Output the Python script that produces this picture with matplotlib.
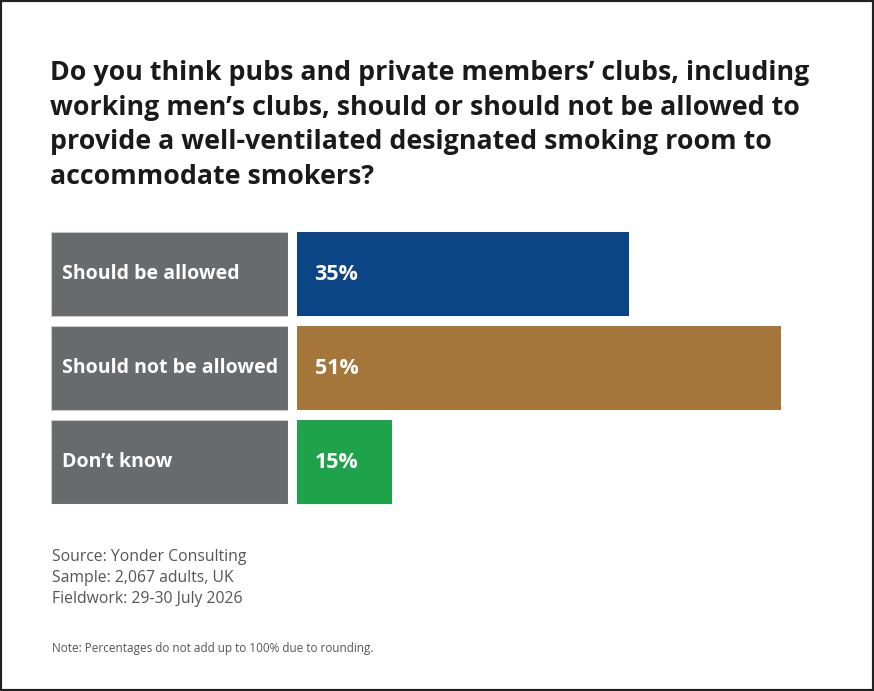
import matplotlib
matplotlib.use("Agg")
import matplotlib.pyplot as plt
from matplotlib.patches import Rectangle

plt.rcParams['font.family'] = ['Open Sans', 'DejaVu Sans']

# data
categories = ['Should be allowed', 'Should not be allowed', 'Don\u2019t know']
bar_lengths = [35, 51, 10]          # drawn length of each bar (in % units)
value_labels = ['35%', '51%', '15%']
bar_colors = ['#0c4585', '#a4763a', '#1ea34a']

title = ('Do you think pubs and private members\u2019 clubs, including\n'
         'working men\u2019s clubs, should or should not be allowed to\n'
         'provide a well-ventilated designated smoking room to\n'
         'accommodate smokers?')
source_lines = ['Source: Yonder Consulting', 'Sample: 2,067 adults, UK',
                'Fieldwork: 29-30 July 2026']
note = 'Note: Percentages do not add up to 100% due to rounding.'

W, H = 874, 691
fig = plt.figure(figsize=(W / 100, H / 100), dpi=100)

def fx(px):
    return px / W

def fy(py):
    return 1 - py / H

# bar area
px_per_unit = 9.49
top, bottom = 232, 504
ax = fig.add_axes([fx(297), fy(bottom), 60 * px_per_unit / W, (bottom - top) / H])
pos = list(range(len(categories)))
bh = 84 / 94
ax.barh(pos, bar_lengths, height=bh, color=bar_colors, edgecolor='none')
for i, lab in enumerate(value_labels):
    ax.text(1.85, i, lab, color='white', fontsize=15.5, fontweight='bold',
            va='center', ha='left')
ax.set_xlim(0, 60)
ax.set_ylim(len(categories) - 1 + bh / 2, -bh / 2)
ax.axis('off')

# grey label boxes
axl = fig.add_axes([fx(51), fy(bottom), (288 - 51) / W, (bottom - top) / H])
axl.barh(pos, [1] * len(categories), height=bh, color='#686b6c',
         edgecolor='#c8c8c8', linewidth=0.8)
for i, cat in enumerate(categories):
    axl.text(0.047, i, cat, color='white', fontsize=14, fontweight='bold',
             va='center', ha='left')
axl.set_xlim(0, 1)
axl.set_ylim(len(categories) - 1 + bh / 2, -bh / 2)
axl.axis('off')

fig.text(fx(50), fy(60), title, fontsize=19.3, fontweight='bold', color='#1a1a1a',
         va='top', ha='left', linespacing=1.43)

fig.text(fx(52), fy(549), '\n'.join(source_lines), fontsize=11.3, color='#555555',
         va='top', ha='left', linespacing=1.4)
fig.text(fx(52), fy(642), note, fontsize=8.5, color='#555555', va='top', ha='left')

fig.patches.append(Rectangle((0, 0), 1, 1, transform=fig.transFigure, fill=False,
                             edgecolor='#222222', linewidth=3))

fig.savefig('out.png', dpi=100, facecolor='white')
